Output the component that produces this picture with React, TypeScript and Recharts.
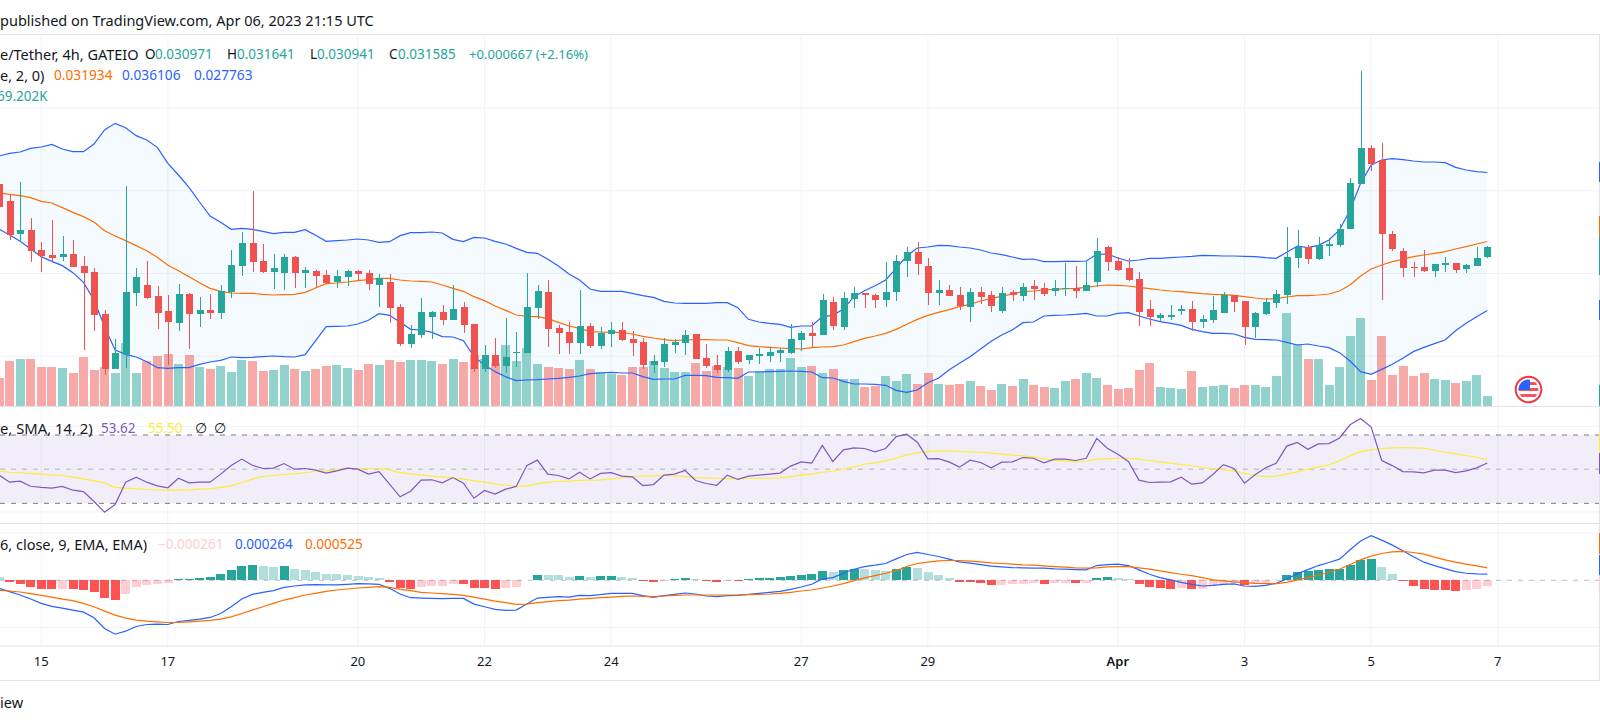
import { Bar, CartesianGrid, ComposedChart, Area, Line, ReferenceArea, ReferenceLine, XAxis, YAxis } from "recharts";

// prices, bands and MACD are in 1e-6 USDT, volume in thousands
const opens = [
  35410, 34382, 32388, 32629, 31421, 31118, 30997, 31179, 30453, 30091,
  27552, 24227, 25134, 28821, 29305, 28640, 27733, 27008, 28761, 27552,
  27794, 27612, 28882, 30453, 31844, 30756, 30091, 30030, 30997, 30030,
  30151, 29909, 29486, 29788, 30151, 30030, 29305, 29486, 27975, 25738,
  26282, 27370, 27673, 27189, 27975, 26947, 24227, 25073, 24408, 25194,
  25194, 27914, 28882, 26705, 26464, 25799, 26826, 25617, 26343, 26585,
  26040, 25859, 24469, 24650, 25678, 25799, 26343, 24892, 24469, 24166,
  25315, 24771, 25013, 25013, 25194, 25194, 25980, 26403, 26282, 28277,
  26766, 28459, 28821, 28700, 28398, 28882, 30756, 31300, 30453, 28821,
  29003, 28700, 27975, 28882, 28700, 27733, 28882, 28640, 29244, 29123,
  28942, 29103, 29123, 28942, 29486, 31602, 30756, 30332, 29667, 27854,
  27310, 27370, 27733, 27854, 27068, 27189, 27612, 28700, 28338, 26766,
  27552, 28217, 28700, 30937, 31602, 30876, 31662, 31723, 32690, 35410,
  37586, 36861, 32388, 31360, 30393, 30393, 30151, 30514, 30635, 30272,
  30453, 30971,
];
const highs = [
  36100, 34745, 35531, 33355, 31904, 33234, 32267, 32025, 31058, 30332,
  27794, 26040, 35289, 30332, 30756, 29244, 28700, 29365, 28821, 28579,
  28761, 29305, 31421, 32509, 34987, 31783, 31179, 31179, 31058, 30393,
  30212, 30212, 30212, 30212, 30212, 30212, 29970, 29970, 28156, 26887,
  28519, 27733, 28096, 29305, 28277, 26947, 25678, 26101, 27310, 26464,
  30030, 29305, 29607, 26887, 27068, 29003, 27008, 26766, 27068, 27068,
  26524, 26101, 25073, 26101, 26040, 26585, 26343, 25738, 25073, 25557,
  25557, 25073, 25496, 25557, 25496, 26947, 26524, 27068, 28761, 28579,
  28882, 29184, 28821, 28761, 30695, 31118, 31602, 31904, 30937, 29607,
  29305, 29184, 29123, 29184, 28942, 29184, 29003, 29426, 29607, 29426,
  29607, 30635, 30453, 30816, 32146, 31662, 30997, 30937, 30091, 28398,
  27612, 28096, 28096, 28338, 27491, 28640, 28882, 28700, 28338, 27673,
  28519, 29003, 32811, 32630, 31723, 32206, 32146, 32992, 35773, 42241,
  37768, 37889, 32569, 31541, 30695, 31420, 30574, 31007, 30635, 30574,
  31602, 31641,
];
const lows = [
  33838, 32025, 31904, 30695, 30091, 30695, 30756, 30393, 25375, 26524,
  23864, 24227, 24287, 28035, 28458, 26645, 24469, 26524, 25436, 26766,
  27249, 27249, 28519, 29849, 30091, 30030, 29063, 29003, 29124, 29124,
  29124, 29365, 29124, 29244, 29607, 29003, 27975, 27008, 25617, 25496,
  26101, 26040, 26887, 27189, 26403, 24046, 24046, 24287, 23985, 24348,
  25194, 27250, 25557, 25134, 25134, 25134, 25496, 25436, 25557, 25920,
  25013, 24227, 23985, 24348, 25194, 25073, 24831, 24287, 23985, 24046,
  24529, 24529, 24529, 24650, 24650, 25134, 25315, 25557, 26282, 26585,
  26585, 27914, 27914, 27914, 27975, 28337, 29788, 29909, 28096, 28096,
  28640, 27794, 27068, 28156, 27673, 27612, 28337, 28337, 28398, 28640,
  28640, 28640, 28519, 28942, 29184, 30151, 30151, 29547, 26826, 26826,
  27068, 27189, 27491, 26524, 26705, 27008, 27612, 27673, 25678, 26101,
  27491, 27914, 28156, 30332, 30574, 30816, 31058, 31602, 32690, 35410,
  36196, 28398, 31360, 29788, 29788, 30091, 29788, 30091, 30030, 30030,
  30453, 30941,
];
const closes = [
  34020, 32327, 32629, 31360, 31058, 30937, 31179, 30393, 30030, 27491,
  24227, 25194, 28882, 29788, 28519, 27612, 27068, 28761, 27552, 27794,
  27612, 28942, 30514, 31844, 30695, 30091, 30332, 30997, 30030, 30212,
  29849, 29426, 29849, 30151, 29970, 29365, 29728, 27914, 25738, 26343,
  27673, 27673, 27189, 27854, 26887, 24227, 25073, 24408, 24952, 25255,
  27975, 28942, 26645, 26403, 25799, 26826, 25617, 26403, 26585, 25980,
  25799, 24469, 24710, 25738, 25859, 26282, 24831, 24408, 24166, 25315,
  24650, 25073, 25134, 25255, 25375, 26040, 26403, 26222, 28398, 26826,
  28519, 28821, 28700, 28398, 28882, 30756, 31300, 30574, 28821, 29003,
  28640, 28035, 28882, 28579, 28035, 28821, 28700, 29184, 29063, 28761,
  29123, 29123, 28942, 29305, 31360, 30695, 30212, 29607, 27673, 27370,
  27491, 27491, 27854, 27068, 27249, 27793, 28700, 28277, 26766, 27612,
  28277, 28761, 30997, 31602, 30876, 31723, 31783, 32690, 35471, 37586,
  36619, 32388, 31481, 30332, 30332, 30151, 30574, 30635, 30212, 30514,
  30937, 31585,
];
const volumes = [
  193, 311, 324, 324, 269, 269, 262, 228, 338, 248,
  269, 228, 435, 228, 311, 345, 359, 290, 352, 269,
  255, 276, 235, 317, 311, 242, 248, 283, 255, 242,
  255, 276, 283, 262, 248, 290, 283, 317, 304, 317,
  317, 311, 290, 324, 304, 352, 324, 297, 421, 311,
  400, 290, 269, 262, 255, 317, 255, 235, 221, 214,
  269, 269, 311, 262, 235, 235, 297, 242, 276, 269,
  262, 207, 242, 255, 255, 331, 269, 276, 228, 255,
  186, 186, 131, 138, 207, 172, 221, 152, 228, 152,
  145, 152, 172, 138, 110, 152, 138, 186, 145, 131,
  124, 172, 186, 228, 193, 145, 117, 124, 248, 297,
  131, 124, 117, 242, 131, 138, 145, 124, 145, 145,
  131, 207, 642, 428, 324, 324, 145, 269, 483, 607,
  179, 483, 214, 276, 207, 228, 186, 179, 159, 172,
  214, 69.2,
];
const bbUpper = [
  37103, 37264, 37345, 37566, 37647, 37808, 37526, 37365, 37365, 37828,
  38675, 39078, 38816, 38332, 38070, 37627, 36660, 35954, 35209, 34322,
  33476, 33093, 32670, 32730, 32670, 32549, 32408, 32489, 32489, 32650,
  32307, 31944, 31985, 32025, 32086, 32025, 31884, 31924, 32287, 32468,
  32468, 32509, 32448, 32065, 31924, 32186, 32146, 31944, 31783, 31521,
  31279, 31219, 30856, 30453, 29970, 29607, 29063, 28922, 28922, 28922,
  28801, 28660, 28559, 28317, 28217, 28196, 28196, 28196, 28237, 28237,
  27935, 27229, 27068, 26987, 26927, 26746, 26826, 26826, 27390, 27471,
  27854, 28599, 28962, 29264, 29607, 30312, 31058, 31541, 31602, 31703,
  31683, 31602, 31541, 31420, 31239, 31138, 30997, 30856, 30876, 30715,
  30715, 30735, 30735, 30756, 31159, 31179, 30937, 30756, 30816, 30917,
  30917, 30957, 30997, 31038, 31098, 31078, 31058, 31058, 31038, 31018,
  30957, 30917, 31279, 31662, 31562, 31703, 32025, 32630, 33839, 35450,
  36559, 36861, 36942, 36881, 36800, 36740, 36740, 36700, 36418, 36257,
  36156, 36106,
];
const bbMiddle = [
  34886, 34786, 34705, 34584, 34362, 34262, 33980, 33698, 33436, 33113,
  32589, 32267, 31985, 31683, 31380, 30977, 30494, 30171, 29808, 29446,
  29103, 28922, 28821, 28801, 28801, 28741, 28700, 28720, 28741, 28861,
  29123, 29386, 29426, 29486, 29567, 29627, 29708, 29708, 29607, 29546,
  29526, 29486, 29305, 29103, 28922, 28599, 28358, 28035, 27773, 27491,
  27411, 27390, 27270, 27048, 26826, 26685, 26484, 26464, 26443, 26443,
  26343, 26202, 26101, 26000, 25940, 25980, 26000, 26000, 25980, 25980,
  25819, 25638, 25577, 25537, 25496, 25456, 25436, 25516, 25557, 25577,
  25678, 25879, 26081, 26222, 26383, 26625, 26927, 27229, 27471, 27653,
  27814, 27995, 28136, 28338, 28499, 28620, 28761, 28902, 28942, 29003,
  29043, 29083, 29103, 29164, 29244, 29305, 29285, 29244, 29164, 29083,
  29002, 28942, 28902, 28841, 28781, 28741, 28720, 28680, 28600, 28519,
  28458, 28479, 28579, 28660, 28660, 28700, 28761, 28942, 29305, 29849,
  30272, 30514, 30715, 30856, 31018, 31118, 31219, 31320, 31481, 31622,
  31783, 31934,
];
const bbLower = [
  32690, 32327, 31944, 31481, 31018, 30735, 30474, 30050, 29466, 28398,
  26786, 25375, 25114, 24953, 24670, 24307, 24267, 24307, 24307, 24509,
  24650, 24751, 24953, 24912, 24932, 24973, 25013, 24973, 24953, 25093,
  25940, 26786, 26806, 26826, 26947, 27169, 27572, 27471, 27048, 26625,
  26585, 26443, 26181, 26161, 25940, 24972, 24469, 24066, 23763, 23522,
  23562, 23582, 23623, 23663, 23723, 23804, 23945, 23985, 24025, 23985,
  23985, 23763, 23602, 23623, 23623, 23844, 23844, 23824, 23723, 23703,
  23663, 24046, 24046, 24066, 24086, 24106, 24086, 24046, 23703, 23683,
  23481, 23320, 23320, 23300, 23240, 22937, 22817, 22957, 23401, 23663,
  24166, 24569, 24972, 25436, 25899, 26282, 26585, 27028, 27068, 27431,
  27471, 27491, 27531, 27592, 27431, 27431, 27592, 27632, 27431, 27249,
  27088, 26987, 26866, 26625, 26483, 26383, 26383, 26343, 26141, 26020,
  26000, 25980, 25839, 25678, 25738, 25617, 25517, 25215, 24710, 24066,
  23904, 24206, 24509, 24872, 25275, 25536, 25758, 25980, 26542, 26987,
  27390, 27763,
];
const rsi = [
  46.5, 42.4, 43.0, 40.0, 39.3, 38.9, 39.9, 37.7, 36.9, 31.1,
  24.8, 29.3, 42.4, 45.3, 42.4, 40.2, 39.1, 44.7, 42.0, 42.4,
  42.4, 47.1, 52.1, 55.9, 52.3, 50.4, 50.6, 53.3, 50.0, 50.4,
  49.4, 47.7, 49.0, 50.6, 50.0, 47.1, 48.6, 41.2, 33.8, 37.1,
  43.6, 43.8, 42.0, 45.1, 41.8, 33.0, 37.5, 35.4, 38.3, 39.9,
  52.1, 55.3, 47.1, 46.3, 44.3, 48.2, 44.3, 47.5, 48.0, 45.9,
  45.5, 40.4, 41.0, 46.5, 47.1, 49.2, 43.4, 41.6, 40.6, 46.5,
  44.0, 45.9, 46.5, 47.1, 47.7, 51.8, 54.3, 53.5, 63.9, 54.5,
  61.3, 62.5, 62.1, 60.1, 62.1, 69.1, 70.5, 65.8, 56.0, 56.2,
  54.3, 51.2, 55.3, 53.9, 50.8, 54.1, 54.3, 56.8, 56.4, 53.7,
  55.9, 55.9, 55.1, 56.4, 68.0, 62.3, 58.8, 54.5, 43.6, 42.2,
  42.4, 42.6, 45.3, 41.2, 42.0, 46.9, 52.7, 50.4, 41.8, 46.7,
  50.8, 53.5, 63.5, 65.6, 61.7, 64.8, 65.0, 68.3, 76.0, 79.7,
  74.6, 55.1, 52.1, 48.6, 48.4, 47.9, 49.4, 49.4, 48.0, 49.0,
  50.8, 53.62,
];
const rsiAverage = [
  48.8, 48.2, 47.9, 47.5, 47.1, 46.7, 46.3, 45.3, 44.3, 43.2,
  42.0, 39.3, 38.9, 38.5, 38.1, 37.9, 37.7, 37.7, 37.9, 38.3,
  38.5, 39.3, 40.2, 42.2, 44.2, 45.7, 46.3, 46.9, 47.3, 47.9,
  48.8, 49.0, 49.6, 50.4, 50.4, 50.4, 50.4, 49.6, 48.0, 47.3,
  46.5, 45.9, 45.5, 44.9, 44.2, 43.2, 42.4, 41.4, 40.6, 39.9,
  40.2, 41.4, 42.4, 42.8, 43.0, 43.4, 43.6, 43.8, 44.2, 44.9,
  45.7, 45.9, 46.1, 46.3, 46.1, 45.7, 45.1, 44.9, 44.7, 44.5,
  44.5, 44.7, 44.7, 44.7, 44.9, 45.7, 46.5, 47.1, 48.2, 48.8,
  50.2, 51.4, 52.9, 53.7, 54.9, 56.4, 58.4, 59.6, 60.3, 60.7,
  60.7, 60.3, 60.1, 59.9, 59.4, 58.8, 58.2, 57.8, 57.2, 56.0,
  55.1, 54.7, 54.3, 54.5, 55.9, 56.2, 56.4, 56.4, 55.9, 55.1,
  54.3, 53.5, 52.7, 52.0, 51.0, 50.2, 49.8, 49.0, 47.5, 46.3,
  45.7, 45.9, 47.1, 48.4, 50.0, 51.4, 52.5, 54.9, 57.8, 60.3,
  61.3, 62.1, 62.5, 62.7, 62.5, 62.3, 61.1, 59.9, 59.0, 58.0,
  57.0, 55.5,
];
const macd = [
  -340, -482, -623, -794, -978, -1105, -1176, -1261, -1346, -1587,
  -2040, -2281, -2154, -1955, -1870, -1856, -1870, -1743, -1700, -1644,
  -1573, -1403, -1119, -794, -595, -510, -439, -298, -241, -198,
  -184, -198, -198, -170, -142, -156, -170, -340, -581, -737,
  -751, -765, -779, -765, -765, -1006, -1119, -1233, -1275, -1261,
  -1006, -751, -723, -694, -709, -638, -652, -609, -553, -553,
  -553, -652, -723, -652, -595, -538, -581, -666, -694, -652,
  -638, -595, -553, -510, -468, -383, -283, -170, 57, 113,
  298, 468, 581, 638, 709, 907, 1091, 1176, 1091, 1006,
  893, 779, 723, 666, 595, 567, 538, 524, 510, 510,
  482, 468, 453, 439, 623, 666, 680, 623, 439, 255,
  113, 14, -85, -170, -241, -213, -170, -156, -241, -255,
  -213, -128, 57, 269, 453, 623, 751, 893, 1289, 1658,
  1885, 1700, 1488, 1247, 992, 765, 623, 496, 368, 298,
  269, 264,
];
const macdSignal = [
  -425, -453, -496, -567, -638, -709, -794, -864, -978, -1119,
  -1304, -1474, -1601, -1686, -1729, -1757, -1785, -1785, -1757, -1729,
  -1700, -1644, -1545, -1403, -1261, -1119, -978, -836, -737, -623,
  -553, -468, -411, -368, -326, -298, -269, -298, -383, -439,
  -510, -538, -567, -595, -638, -709, -794, -879, -949, -1020,
  -1006, -949, -907, -864, -836, -794, -765, -737, -709, -680,
  -666, -680, -694, -666, -638, -623, -623, -623, -623, -623,
  -623, -609, -595, -581, -553, -510, -453, -411, -326, -241,
  -142, -14, 99, 198, 298, 411, 581, 709, 765, 822,
  836, 836, 808, 779, 737, 709, 680, 652, 638, 609,
  581, 553, 524, 510, 524, 567, 581, 581, 524, 468,
  397, 326, 255, 198, 113, 14, -28, -71, -99, -128,
  -142, -142, -85, 14, 113, 213, 340, 468, 666, 864,
  1020, 1134, 1204, 1219, 1176, 1105, 978, 864, 765, 680,
  609, 525,
];
const macdHistogram = [
  156, -85, -156, -298, -368, -383, -368, -383, -397, -496,
  -751, -836, -581, -283, -198, -156, -113, 43, 57, 85,
  156, 283, 453, 623, 666, 623, 581, 595, 496, 453,
  368, 283, 255, 241, 198, 156, 113, -85, -326, -368,
  -283, -255, -241, -156, -170, -326, -340, -368, -326, -283,
  14, 241, 227, 213, 156, 198, 156, 170, 184, 156,
  113, -28, -71, -28, 71, 113, 71, -28, -71, -28,
  -43, 71, 85, 113, 156, 198, 241, 283, 411, 368,
  453, 496, 482, 453, 411, 496, 581, 538, 368, 241,
  113, -71, -85, -113, -198, -184, -156, -142, -128, -156,
  -128, -113, -128, -113, 113, 156, 113, 57, -156, -283,
  -326, -368, -326, -368, -354, -198, -156, -113, -198, -113,
  -99, 28, 241, 368, 411, 453, 468, 496, 666, 864,
  921, 581, 283, -28, -241, -368, -411, -425, -453, -411,
  -368, -261,
];

// bar index of each date label on the time axis
const dayTicks = [4, 16, 34, 46, 58, 76, 88, 106, 118, 130, 142];
const dayLabels = ["15", "17", "20", "22", "24", "27", "29", "Apr", "3", "5", "7"];
const priceLines = [25000, 30000, 35000, 40000];
const rsiLines = [25, 75];
const macdLines = [-2000, 2000];

const rows = closes.map((close, i) => ({
  i,
  open: opens[i],
  high: highs[i],
  low: lows[i],
  close,
  volume: volumes[i],
  upper: bbUpper[i],
  middle: bbMiddle[i],
  lower: bbLower[i],
  rsi: rsi[i],
  rsiAverage: rsiAverage[i],
  macd: macd[i],
  signal: macdSignal[i],
  hist: macdHistogram[i],
  prevHist: macdHistogram[i - 1],
}));

const UP = "#26a69a";
const DOWN = "#ef5350";
const BLUE = "#2962ff";
const ORANGE = "#ff6d00";
const INK = "#131722";
const GRID = "#f0f3fa";
const BORDER = "#e0e3eb";
const FONT = "'Noto Sans', sans-serif";
const LINE_WIDTH = 1.2;
const xDomain = [0.095, 151.68];

// ends of the cropped price scale labels along the right edge
const edgeMarks = [
  { top: 162, height: 20, color: BLUE },
  { top: 216, height: 20, color: ORANGE },
  { top: 236, height: 39, color: UP },
  { top: 300, height: 20, color: BLUE },
  { top: 385, height: 21, color: UP },
  { top: 434, height: 18, color: "#ffeb3b" },
  { top: 453, height: 21, color: "#7e57c2" },
  { top: 533, height: 21, color: ORANGE },
  { top: 555, height: 20, color: BLUE },
  { top: 577, height: 19, color: "#ffcdd2" },
];

function Candle(props: any) {
  const { x, y, width, height, payload } = props;
  const top = Math.min(y, y + height);
  const full = Math.abs(height);
  const scale = full / (payload.high - payload.low || 1);
  const color = payload.close >= payload.open ? UP : DOWN;
  const bodyTop = top + (payload.high - Math.max(payload.open, payload.close)) * scale;
  const bodyHeight = Math.max(Math.abs(payload.open - payload.close) * scale, 1);
  const center = Math.round(x + width / 2);
  return (
    <g shapeRendering="crispEdges">
      <rect x={center} y={top} width={1} height={full} fill={color} />
      <rect x={center - 3} y={Math.round(bodyTop)} width={7} height={Math.max(Math.round(bodyHeight), 1)} fill={color} />
    </g>
  );
}

function VolumeBar(props: any) {
  const { x, y, width, height, payload } = props;
  const color = payload.close >= payload.open ? "rgba(38,166,154,0.5)" : "rgba(239,83,80,0.5)";
  return <rect x={Math.round(x)} y={y} width={width} height={height} fill={color} shapeRendering="crispEdges" />;
}

function HistBar(props: any) {
  const { x, y, width, height, payload } = props;
  const { hist, prevHist } = payload;
  let color;
  if (hist >= 0) color = hist >= prevHist ? UP : "#b2dfdb";
  else color = hist < prevHist ? "#ff5252" : "#ffcdd2";
  return <rect x={Math.round(x)} y={Math.min(y, y + height)} width={width} height={Math.abs(height)} fill={color} shapeRendering="crispEdges" />;
}

function DayTick(props: any) {
  const { x, y, payload } = props;
  const label = dayLabels[dayTicks.indexOf(payload.value)];
  const isMonth = label === "Apr";
  return (
    <text x={x} y={y + 12} textAnchor="middle" fontSize={13} fontFamily={FONT} fill={INK} fontWeight={isMonth ? 600 : 400}>
      {label}
    </text>
  );
}

function Legend({ x, y, color, size, children }: any) {
  return (
    <div style={{ position: "absolute", left: x, top: y - 10, lineHeight: "20px", fontSize: size || 13.5, color, fontFamily: FONT, whiteSpace: "nowrap" }}>
      {children}
    </div>
  );
}

function Rule({ y }: { y: number }) {
  return <div style={{ position: "absolute", left: 0, top: y, width: 1600, height: 1, background: BORDER }} />;
}

function FlagBadge() {
  return (
    <svg style={{ position: "absolute", left: 1514, top: 375 }} width={29} height={29} viewBox="0 0 29 29">
      <defs>
        <clipPath id="flagDisc">
          <circle cx={14.5} cy={14.5} r={10} />
        </clipPath>
      </defs>
      <circle cx={14.5} cy={14.5} r={12.8} fill="#fff" stroke="#f23645" strokeWidth={2} />
      <g clipPath="url(#flagDisc)">
        <rect x={4} y={4} width={21} height={21} fill="#fff" />
        <rect x={4} y={7} width={21} height={3} fill="#f7525f" />
        <rect x={4} y={13} width={21} height={3} fill="#f7525f" />
        <rect x={4} y={19} width={21} height={3} fill="#f7525f" />
        <rect x={4} y={4} width={12} height={11} fill="#2962ff" />
      </g>
    </svg>
  );
}

export default function App() {
  return (
    <div style={{ position: "absolute", left: 0, top: 0, width: 1600, height: 724, overflow: "hidden", background: "#fff" }}>
      <Rule y={34} />

      {/* price and volume pane */}
      <div style={{ position: "absolute", left: 0, top: 34 }}>
        <ComposedChart width={1600} height={372} data={rows} margin={{ top: 0, right: 0, bottom: 0, left: 0 }}>
          <XAxis xAxisId={0} type="number" dataKey="i" domain={xDomain} allowDataOverflow hide />
          <XAxis xAxisId="candle" type="number" dataKey="i" domain={xDomain} allowDataOverflow hide />
          <YAxis yAxisId={0} domain={[21990, 44478]} allowDataOverflow hide />
          <YAxis yAxisId="volume" domain={[0, 2574]} allowDataOverflow hide />
          <CartesianGrid stroke={GRID} horizontalValues={priceLines} verticalValues={dayTicks} />
          <Bar yAxisId="volume" dataKey="volume" barSize={9} shape={VolumeBar} isAnimationActive={false} />
          <Area dataKey={(d: any) => [d.lower, d.upper]} stroke="none" fill="#2196f3" fillOpacity={0.05} dot={false} activeDot={false} isAnimationActive={false} />
          <Line dataKey="upper" stroke={BLUE} strokeWidth={LINE_WIDTH} dot={false} activeDot={false} isAnimationActive={false} />
          <Line dataKey="lower" stroke={BLUE} strokeWidth={LINE_WIDTH} dot={false} activeDot={false} isAnimationActive={false} />
          <Line dataKey="middle" stroke={ORANGE} strokeWidth={LINE_WIDTH} dot={false} activeDot={false} isAnimationActive={false} />
          <Bar xAxisId="candle" dataKey={(d: any) => [d.low, d.high]} barSize={7} shape={Candle} zIndex={500} isAnimationActive={false} />
        </ComposedChart>
      </div>

      {/* RSI pane */}
      <div style={{ position: "absolute", left: 0, top: 407 }}>
        <ComposedChart width={1600} height={116} data={rows} margin={{ top: 0, right: 0, bottom: 0, left: 0 }}>
          <XAxis type="number" dataKey="i" domain={xDomain} allowDataOverflow hide />
          <YAxis domain={[18.5, 86.4]} allowDataOverflow hide />
          <CartesianGrid stroke={GRID} horizontalValues={rsiLines} verticalValues={dayTicks} />
          <ReferenceArea y1={30} y2={70} fill="#7e57c2" fillOpacity={0.1} stroke="none" />
          <ReferenceLine y={70} stroke="#787b86" strokeDasharray="5 6" />
          <ReferenceLine y={50} stroke="#787b86" strokeOpacity={0.5} strokeDasharray="5 6" />
          <ReferenceLine y={30} stroke="#787b86" strokeDasharray="5 6" />
          <Line dataKey="rsiAverage" stroke="#ffeb3b" strokeWidth={LINE_WIDTH} dot={false} activeDot={false} isAnimationActive={false} />
          <Line dataKey="rsi" stroke="#7e57c2" strokeWidth={LINE_WIDTH} dot={false} activeDot={false} isAnimationActive={false} />
        </ComposedChart>
      </div>

      {/* MACD pane with the time axis below it */}
      <div style={{ position: "absolute", left: 0, top: 523 }}>
        <ComposedChart width={1600} height={157} data={rows} margin={{ top: 0, right: 0, bottom: 0, left: 0 }}>
          <XAxis
            type="number"
            dataKey="i"
            domain={xDomain}
            allowDataOverflow
            ticks={dayTicks}
            interval={0}
            height={34}
            tickLine={false}
            axisLine={{ stroke: BORDER }}
            tick={DayTick}
          />
          <YAxis domain={[-2780, 2423]} allowDataOverflow hide />
          <CartesianGrid stroke={GRID} horizontalValues={macdLines} verticalValues={dayTicks} />
          <ReferenceLine y={0} stroke="#787b86" strokeOpacity={0.5} strokeDasharray="5 6" />
          <Bar dataKey="hist" barSize={9} shape={HistBar} isAnimationActive={false} />
          <Line dataKey="macd" stroke={BLUE} strokeWidth={LINE_WIDTH} dot={false} activeDot={false} isAnimationActive={false} />
          <Line dataKey="signal" stroke={ORANGE} strokeWidth={LINE_WIDTH} dot={false} activeDot={false} isAnimationActive={false} />
        </ComposedChart>
      </div>

      <Rule y={406} />
      <Rule y={523} />
      <Rule y={680} />
      <div style={{ position: "absolute", left: 1599, top: 34, width: 1, height: 647, background: BORDER }} />
      {edgeMarks.map((mark) => (
        <div key={mark.top} style={{ position: "absolute", left: 1599, top: mark.top, width: 1, height: mark.height, background: mark.color }} />
      ))}
      <FlagBadge />

      <Legend x={0} y={20} color={INK} size={14.5}>published on TradingView.com, Apr 06, 2023 21:15 UTC</Legend>

      <Legend x={0} y={54} color={INK} size={14.5}>e/Tether, 4h, GATEIO</Legend>
      <Legend x={145} y={54} color={INK}>O</Legend>
      <Legend x={155} y={54} color={UP}>0.030971</Legend>
      <Legend x={227} y={54} color={INK}>H</Legend>
      <Legend x={237} y={54} color={UP}>0.031641</Legend>
      <Legend x={310} y={54} color={INK}>L</Legend>
      <Legend x={317} y={54} color={UP}>0.030941</Legend>
      <Legend x={389} y={54} color={INK}>C</Legend>
      <Legend x={398} y={54} color={UP}>0.031585</Legend>
      <Legend x={469} y={54} color={UP} size={13.1}>+0.000667 (+2.16%)</Legend>

      <Legend x={0} y={75} color={INK} size={14.5}>e, 2, 0)</Legend>
      <Legend x={54} y={75} color={ORANGE} size={13.7}>0.031934</Legend>
      <Legend x={122} y={75} color={BLUE} size={13.7}>0.036106</Legend>
      <Legend x={194} y={75} color={BLUE} size={13.7}>0.027763</Legend>

      <Legend x={-3} y={96} color={UP}>69.202K</Legend>

      <Legend x={0} y={428} color={INK} size={14.8}>e, SMA, 14, 2)</Legend>
      <Legend x={101} y={428} color="#7e57c2">53.62</Legend>
      <Legend x={148} y={428} color="#ffeb3b">55.50</Legend>
      <Legend x={195} y={428} color={INK}>∅</Legend>
      <Legend x={214} y={428} color={INK}>∅</Legend>

      <Legend x={0} y={544} color={INK} size={14.5}>6, close, 9, EMA, EMA)</Legend>
      <Legend x={158} y={544} color="#ffcdd2">−0.000261</Legend>
      <Legend x={235} y={544} color={BLUE}>0.000264</Legend>
      <Legend x={305} y={544} color={ORANGE}>0.000525</Legend>

      <Legend x={0} y={702} color={INK} size={14.5}>iew</Legend>
    </div>
  );
}
